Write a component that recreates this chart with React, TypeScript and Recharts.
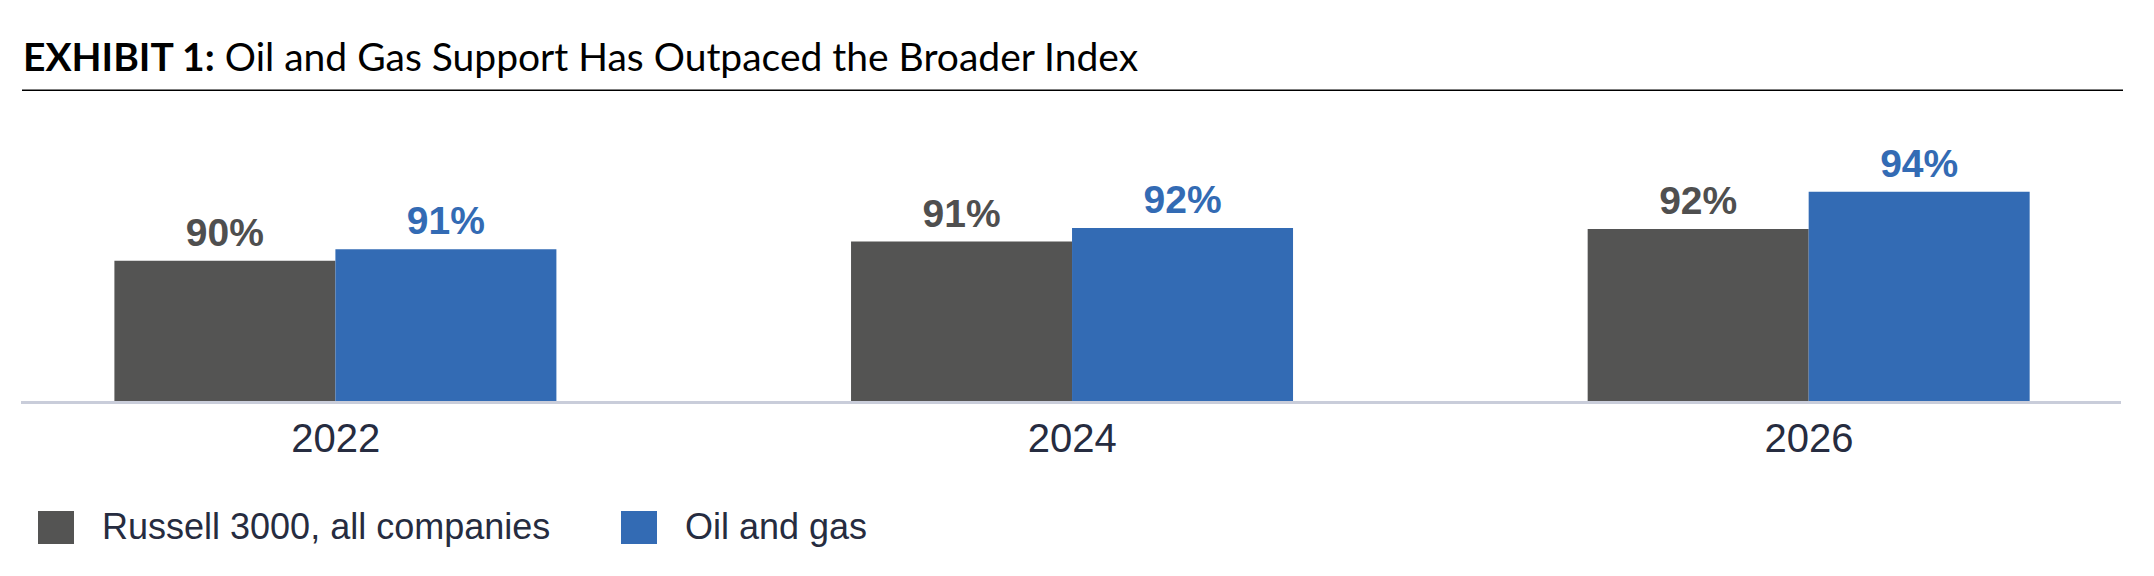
import React from 'react';
import { BarChart, Bar, XAxis, YAxis, LabelList, Legend } from 'recharts';

const categories = ['2022', '2024', '2026'];
const russellValues = [90.4, 91.4, 92.05];
const oilGasValues = [91.0, 92.1, 94.0];
const seriesNames = ['Russell 3000, all companies', 'Oil and gas'];
const seriesColors = ['#545453', '#336BB4'];
const labelColors = ['#4f4f4f', '#336BB4'];
const titleBold = 'EXHIBIT 1:';
const titleRest = ' Oil and Gas Support Has Outpaced the Broader Index';

const data = categories.map((c, i) => ({ year: c, russell: russellValues[i], oil: oilGasValues[i] }));

const ARIAL = '"Liberation Sans", Arial, sans-serif';
const pct = (v: any) => `${Math.round(Number(v))}%`;

const LegendContent = (props: any) => {
  const payload = [...(props.payload || [])].sort(
    (a: any, b: any) => seriesNames.indexOf(a.value) - seriesNames.indexOf(b.value)
  );
  return (
    <div style={{ display: 'flex', alignItems: 'center', height: 36, paddingLeft: 38, fontFamily: ARIAL }}>
      {payload.map((p: any, i: number) => (
        <div key={i} style={{ display: 'flex', alignItems: 'center', minWidth: i === 0 ? 583 : undefined }}>
          <div style={{ width: 36, height: 33, background: p.color, marginRight: 28 }} />
          <span style={{ fontSize: 36, lineHeight: '36px', color: '#262c40', whiteSpace: 'nowrap' }}>{p.value}</span>
        </div>
      ))}
    </div>
  );
};

export default function App() {
  return (
    <div style={{ position: 'absolute', left: 0, top: 0, width: 2154, height: 576, background: '#fff', fontFamily: ARIAL }}>
      <svg width={2154} height={100} style={{ position: 'absolute', left: 0, top: 0 }}>
        <text x={23} y={70.7} fontFamily="Lato, sans-serif" fontSize={39} fill="#000" style={{ whiteSpace: 'pre' }}>
          <tspan fontWeight={700}>{titleBold}</tspan>
          <tspan fontWeight={400}>{titleRest}</tspan>
        </text>
        <line x1={22} x2={2123} y1={90.3} y2={90.3} stroke="#000" strokeWidth={1.5} />
      </svg>
      <div style={{ position: 'absolute', left: 0, top: 0 }}>
        <BarChart
          width={2154}
          height={576}
          data={data}
          barGap={0}
          margin={{ top: 172.5, right: 33, bottom: 143.5, left: 21 }}
        >
          <YAxis hide domain={[83, 95]} allowDataOverflow />
          <XAxis
            dataKey="year"
            height={30}
            axisLine={{ stroke: '#c9cdda', strokeWidth: 3 }}
            tickLine={false}
            tickSize={0}
            tickMargin={21}
            interval={0}
            padding={{ left: -53.6, right: -56.3 }}
            tick={{ fontSize: 40, fill: '#262c40', fontFamily: ARIAL }}
          />
          <Legend
            verticalAlign="middle"
            layout="horizontal"
            content={<LegendContent />}
            wrapperStyle={{ position: 'absolute', left: 0, top: 509.3, width: 2154, height: 36 }}
          />
          <Bar dataKey="russell" name={seriesNames[0]} fill={seriesColors[0]} barSize={221} isAnimationActive={false}>
            <LabelList dataKey="russell" position="top" offset={15} formatter={pct} fill={labelColors[0]} fontSize={39} fontWeight="bold" fontFamily={ARIAL} />
          </Bar>
          <Bar dataKey="oil" name={seriesNames[1]} fill={seriesColors[1]} barSize={221} isAnimationActive={false}>
            <LabelList dataKey="oil" position="top" offset={15} formatter={pct} fill={labelColors[1]} fontSize={39} fontWeight="bold" fontFamily={ARIAL} />
          </Bar>
        </BarChart>
      </div>
    </div>
  );
}
